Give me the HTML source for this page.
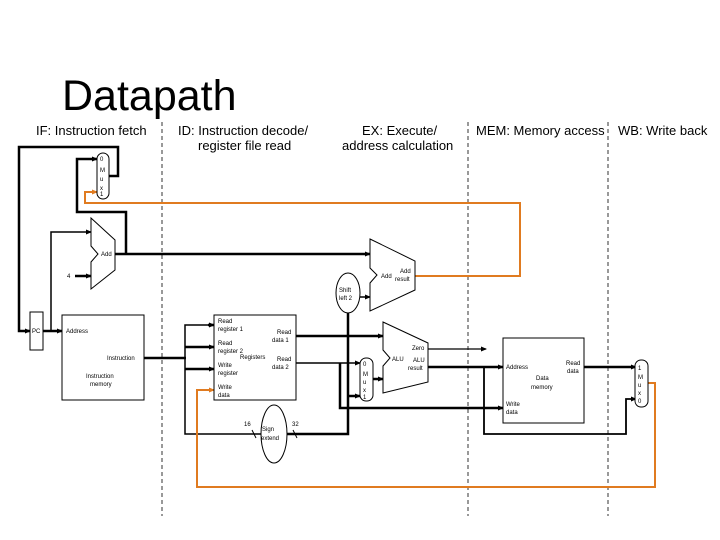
<!DOCTYPE html>
<html><head><meta charset="utf-8"><style>
html,body{margin:0;padding:0;background:#fff;}
svg{display:block;}
text{font-family:"Liberation Sans",sans-serif;fill:#000;}
.s{font-size:6px;}
.h{font-size:13px;}
</style></head><body>
<svg width="720" height="540" viewBox="0 0 720 540" xmlns="http://www.w3.org/2000/svg">
<defs><marker id="a" markerWidth="6" markerHeight="6" refX="5" refY="3" orient="auto" markerUnits="userSpaceOnUse"><path d="M0,0.5 L6,3 L0,5.5z" fill="#000"/></marker>
<marker id="o" markerWidth="6" markerHeight="6" refX="5" refY="3" orient="auto" markerUnits="userSpaceOnUse"><path d="M0,0.5 L6,3 L0,5.5z" fill="#e07b20"/></marker></defs>
<text x="62" y="110" style="font-size:43px">Datapath</text>
<text class="h" x="36" y="135">IF: Instruction fetch</text>
<text class="h" x="178" y="135">ID: Instruction decode/</text>
<text class="h" x="198" y="150">register file read</text>
<text class="h" x="362" y="135">EX: Execute/</text>
<text class="h" x="342" y="150">address calculation</text>
<text class="h" x="476" y="135">MEM: Memory access</text>
<text class="h" x="618" y="135">WB: Write back</text>
<g stroke="#333" stroke-width="1" stroke-dasharray="4,3"><line x1="162" y1="122" x2="162" y2="516"/><line x1="468" y1="122" x2="468" y2="516"/><line x1="608" y1="122" x2="608" y2="516"/></g>
<g fill="none" stroke="#000" stroke-width="2.5">
<polyline points="109,176 118,176 118,147 19,147 19,331 30,331" marker-end="url(#a)"/>
<polyline points="126,254 126,212 77,212 77,159 97,159" marker-end="url(#a)"/>
<polyline points="115,254 370,254" marker-end="url(#a)"/>
<polyline points="51,331 51,232 91,232" stroke-width="1.5" marker-end="url(#a)"/>
<line x1="75" y1="276" x2="91" y2="276" marker-end="url(#a)"/>
<line x1="43" y1="331" x2="62" y2="331" marker-end="url(#a)"/>
<line x1="144" y1="358" x2="186" y2="358"/>
<polyline points="214,325 185,325 185,434 261,434" stroke-width="1.5"/>
<line x1="185" y1="347" x2="214" y2="347" marker-end="url(#a)"/>
<line x1="185" y1="369" x2="214" y2="369" marker-end="url(#a)"/>
<line x1="208" y1="325" x2="214" y2="325" marker-end="url(#a)"/>
<polyline points="287,434 348,434 348,313"/>
<line x1="348" y1="396" x2="360" y2="396" marker-end="url(#a)"/>
<line x1="360" y1="297" x2="370" y2="297" stroke-width="1.5" marker-end="url(#a)"/>
<line x1="296" y1="336" x2="383" y2="336" marker-end="url(#a)"/>
<line x1="296" y1="363" x2="360" y2="363" stroke-width="1.5" marker-end="url(#a)"/>
<polyline points="340,363 340,408 503,408" marker-end="url(#a)"/>
<line x1="373" y1="379" x2="383" y2="379" marker-end="url(#a)"/>
<line x1="428" y1="349" x2="486" y2="349" stroke-width="1.2" marker-end="url(#a)"/>
<line x1="428" y1="367" x2="503" y2="367" marker-end="url(#a)"/>
<polyline points="484,367 484,434 626,434 626,399 636,399" stroke-width="1.8" marker-end="url(#a)"/>
<line x1="584" y1="367" x2="636" y2="367" marker-end="url(#a)"/>
</g>
<g fill="none" stroke="#e07b20" stroke-width="2">
<polyline points="413,276 520,276 520,203 85,203 85,192 97,192" marker-end="url(#o)"/>
<polyline points="648,383 655,383 655,487 197,487 197,390 214,390" marker-end="url(#o)"/>
</g>
<g fill="#fff" stroke="#000" stroke-width="1">
<rect x="97" y="153" width="12" height="46" rx="6"/>
<rect x="360" y="358" width="13" height="43" rx="6"/>
<rect x="635" y="360" width="13" height="47" rx="6"/>
<polygon points="91,218 115,240 115,270 91,289 91,262 98,254 91,246"/>
<polygon points="370,239 415,261 415,290 370,311 370,283 377,275 370,268"/>
<polygon points="383,322 428,343 428,382 383,393 383,366 390,358 383,350"/>
<rect x="30" y="312" width="13" height="38"/>
<rect x="62" y="315" width="82" height="85"/>
<rect x="214" y="315" width="82" height="85"/>
<rect x="503" y="338" width="81" height="85"/>
<ellipse cx="348" cy="293" rx="12" ry="20"/>
<ellipse cx="274" cy="434" rx="13" ry="29"/>
</g>
<g stroke="#000" stroke-width="1"><line x1="252" y1="430" x2="256" y2="438"/><line x1="293" y1="430" x2="297" y2="438"/></g>
<g class="s">
<text x="100" y="161">0</text><text x="100" y="172">M</text><text x="100" y="181">u</text><text x="100" y="190">x</text><text x="100" y="196">1</text>
<text x="363" y="366">0</text><text x="363" y="376">M</text><text x="363" y="384">u</text><text x="363" y="392">x</text><text x="363" y="399">1</text>
<text x="638" y="370">1</text><text x="638" y="379">M</text><text x="638" y="387">u</text><text x="638" y="395">x</text><text x="638" y="403">0</text>
<text x="101" y="256">Add</text><text x="67" y="278">4</text>
<text x="381" y="278">Add</text><text x="400" y="273">Add</text><text x="395" y="281">result</text>
<text x="339" y="292">Shift</text><text x="339" y="300">left 2</text>
<text x="32" y="333">PC</text>
<text x="66" y="333">Address</text><text x="107" y="360">Instruction</text>
<text x="86" y="378">Instruction</text><text x="90" y="386">memory</text>
<text x="218" y="323">Read</text><text x="218" y="331">register 1</text>
<text x="218" y="345">Read</text><text x="218" y="353">register 2</text>
<text x="240" y="359">Registers</text>
<text x="218" y="367">Write</text><text x="218" y="375">register</text>
<text x="218" y="389">Write</text><text x="218" y="397">data</text>
<text x="277" y="334">Read</text><text x="272" y="342">data 1</text>
<text x="277" y="361">Read</text><text x="272" y="369">data 2</text>
<text x="392" y="361">ALU</text><text x="412" y="350">Zero</text><text x="413" y="362">ALU</text><text x="408" y="370">result</text>
<text x="262" y="431">Sign</text><text x="261" y="440">extend</text>
<text x="244" y="426">16</text><text x="292" y="426">32</text>
<text x="506" y="369">Address</text><text x="566" y="365">Read</text><text x="567" y="373">data</text>
<text x="536" y="380">Data</text><text x="531" y="389">memory</text>
<text x="506" y="406">Write</text><text x="506" y="414">data</text>
</g>
</svg>
</body></html>
